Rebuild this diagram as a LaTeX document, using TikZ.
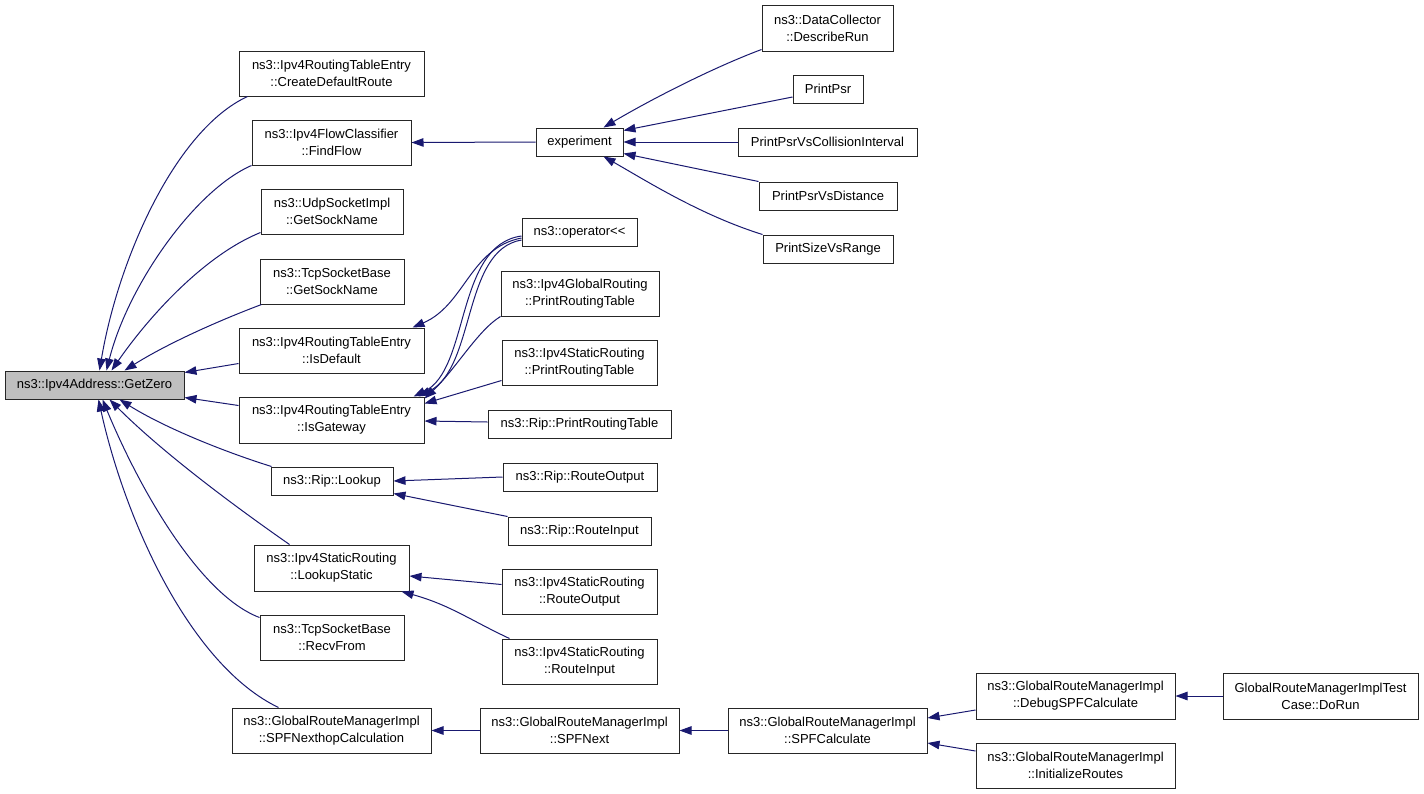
\documentclass[tikz,border=0pt]{standalone}
\usepackage{fontspec}
\setmainfont{Liberation Sans}
\usetikzlibrary{arrows.meta}
\definecolor{edgeblue}{HTML}{191970}
\newcommand\gn[6]{\node[gbox,minimum width=#4pt,minimum height=#5pt] (#1) at (#2,#3) {#6};}
\begin{document}
\begin{tikzpicture}[x=1pt,y=-1pt,
  gbox/.style={draw=black!85,line width=1pt,inner sep=0pt,align=center,font=\fontsize{13}{17}\selectfont,text=black},
  edge/.style={draw=edgeblue,line width=1pt,-{Triangle[length=12pt,width=8.5pt]},color=edgeblue}]
\useasboundingbox[fill=white] (0,0) rectangle (1424,793);
% column 0
\node[gbox,fill=black!25,minimum width=179pt,minimum height=28pt] (zero) at (94.5,385) {ns3::Ipv4Address::GetZero};
% column 1
\gn{cdr}{331.5}{73.5}{185}{45}{ns3::Ipv4RoutingTableEntry\\::CreateDefaultRoute}
\gn{ff}{331.5}{142.5}{159}{45}{ns3::Ipv4FlowClassifier\\::FindFlow}
\gn{udp}{332}{211.5}{142}{45}{ns3::UdpSocketImpl\\::GetSockName}
\gn{tcpg}{332}{281.5}{144}{45}{ns3::TcpSocketBase\\::GetSockName}
\gn{isd}{331.5}{350.5}{185}{45}{ns3::Ipv4RoutingTableEntry\\::IsDefault}
\gn{isg}{331.5}{420}{185}{46}{ns3::Ipv4RoutingTableEntry\\::IsGateway}
\gn{lookup}{332}{481}{122}{28}{ns3::Rip::Lookup}
\gn{lstatic}{331.5}{568}{155}{46}{ns3::Ipv4StaticRouting\\::LookupStatic}
\gn{recv}{332}{637.5}{144}{45}{ns3::TcpSocketBase\\::RecvFrom}
\gn{nexthop}{331.5}{730.5}{199}{45}{ns3::GlobalRouteManagerImpl\\::SPFNexthopCalculation}
% column 2
\gn{exp}{579.5}{142}{87}{28}{experiment}
\gn{op}{579.5}{232}{115}{28}{ns3::operator{<}{<}}
\gn{gprt}{580}{293.5}{158}{45}{ns3::Ipv4GlobalRouting\\::PrintRoutingTable}
\gn{sprt}{579.5}{362.5}{155}{45}{ns3::Ipv4StaticRouting\\::PrintRoutingTable}
\gn{rprt}{579.5}{424}{183}{28}{ns3::Rip::PrintRoutingTable}
\gn{rro}{580}{477}{154}{28}{ns3::Rip::RouteOutput}
\gn{rri}{579.5}{531}{143}{28}{ns3::Rip::RouteInput}
\gn{sro}{579.5}{591.5}{155}{45}{ns3::Ipv4StaticRouting\\::RouteOutput}
\gn{sri}{579.5}{661.5}{155}{45}{ns3::Ipv4StaticRouting\\::RouteInput}
\gn{spfnext}{579.5}{730.5}{199}{45}{ns3::GlobalRouteManagerImpl\\::SPFNext}
% column 3
\gn{dr}{827.5}{28}{131}{46}{ns3::DataCollector\\::DescribeRun}
\gn{pp}{828}{89}{70}{28}{PrintPsr}
\gn{ppci}{827.5}{142}{179}{28}{PrintPsrVsCollisionInterval}
\gn{ppd}{828}{196}{138}{28}{PrintPsrVsDistance}
\gn{psr}{828}{249}{130}{28}{PrintSizeVsRange}
\gn{spfcalc}{827.5}{730.5}{199}{45}{ns3::GlobalRouteManagerImpl\\::SPFCalculate}
% column 4
\gn{dbg}{1075.5}{696}{199}{46}{ns3::GlobalRouteManagerImpl\\::DebugSPFCalculate}
\gn{init}{1075.5}{765.5}{199}{45}{ns3::GlobalRouteManagerImpl\\::InitializeRoutes}
% column 5
\gn{dorun}{1320.5}{696}{195}{46}{GlobalRouteManagerImplTest\\Case::DoRun}
% edges into GetZero
\draw[edge] ([xshift=9pt]cdr.south west) .. controls (175,130) and (118,260) .. ([xshift=95pt]zero.north west);
\draw[edge] (ff.south west) .. controls (195,190) and (128,285) .. ([xshift=102pt]zero.north west);
\draw[edge] ([yshift=2pt]udp.south west) .. controls (205,255) and (150,315) .. ([xshift=107pt]zero.north west);
\draw[edge] ([xshift=2pt]tcpg.south west) .. controls (215,322) and (165,345) .. ([xshift=120pt]zero.north west);
\draw[edge] ([yshift=10pt]isd.south west) -- ([yshift=-2pt]zero.north east);
\draw[edge] ([yshift=-9pt]isg.north west) -- ([yshift=2pt]zero.south east);
\draw[edge] ([xshift=1pt]lookup.north west) .. controls (225,452) and (165,428) .. ([xshift=115pt]zero.south west);
\draw[edge] ([xshift=36pt]lstatic.north west) .. controls (240,510) and (165,455) .. ([xshift=105pt]zero.south west);
\draw[edge] ([yshift=-3pt]recv.north west) .. controls (200,595) and (140,490) .. ([xshift=98pt]zero.south west);
\draw[edge] ([xshift=47pt]nexthop.north west) .. controls (190,665) and (125,520) .. ([xshift=94pt]zero.south west);
% experiment
\draw[edge] (exp.west) -- (ff.east);
\draw[edge] ([yshift=2pt]dr.south west) .. controls (712,68) and (650,100) .. ([xshift=68pt]exp.north west);
\draw[edge] ([yshift=-8pt]pp.west) -- ([yshift=-3pt]exp.north east);
\draw[edge] (ppci.west) -- (exp.east);
\draw[edge] (ppd.north west) -- ([yshift=3pt]exp.south east);
\draw[edge] (psr.north west) .. controls (700,215) and (645,180) .. ([xshift=68pt]exp.south west);
% operator<< and print routing tables
\draw[edge] ([yshift=-6pt]op.west) .. controls (470,248) and (465,305) .. ([xshift=174pt]isd.north west);
\draw[edge] ([yshift=-4pt]op.west) .. controls (455,245) and (470,370) .. ([xshift=175pt]isg.north west);
\draw[edge] ([yshift=-8pt]op.west) .. controls (462,250) and (476,368) .. ([xshift=180pt]isg.north west);
\draw[edge] (gprt.south west) .. controls (478,330) and (455,370) .. ([yshift=-2pt]isg.north east);
\draw[edge] ([yshift=5pt]sprt.south west) -- ([yshift=-7pt]isg.north east);
\draw[edge] ([yshift=2pt]rprt.west) -- ([yshift=-1pt]isg.east);
% lookups
\draw[edge] (rro.west) -- (lookup.east);
\draw[edge] (rri.north west) -- ([yshift=2pt]lookup.south east);
\draw[edge] ([yshift=7pt]sro.west) -- ([yshift=-8pt]lstatic.east);
\draw[edge] ([xshift=8pt]sri.north west) .. controls (470,620) and (450,605) .. ([xshift=-8pt]lstatic.south east);
% global route manager chain
\draw[edge] (spfnext.west) -- (nexthop.east);
\draw[edge] (spfcalc.west) -- (spfnext.east);
\draw[edge] ([yshift=-14pt]dbg.west) -- ([yshift=12.5pt]spfcalc.east);
\draw[edge] ([yshift=14.5pt]init.west) -- ([yshift=-12.5pt]spfcalc.east);
\draw[edge] (dorun.west) -- (dbg.east);
\end{tikzpicture}
\end{document}
